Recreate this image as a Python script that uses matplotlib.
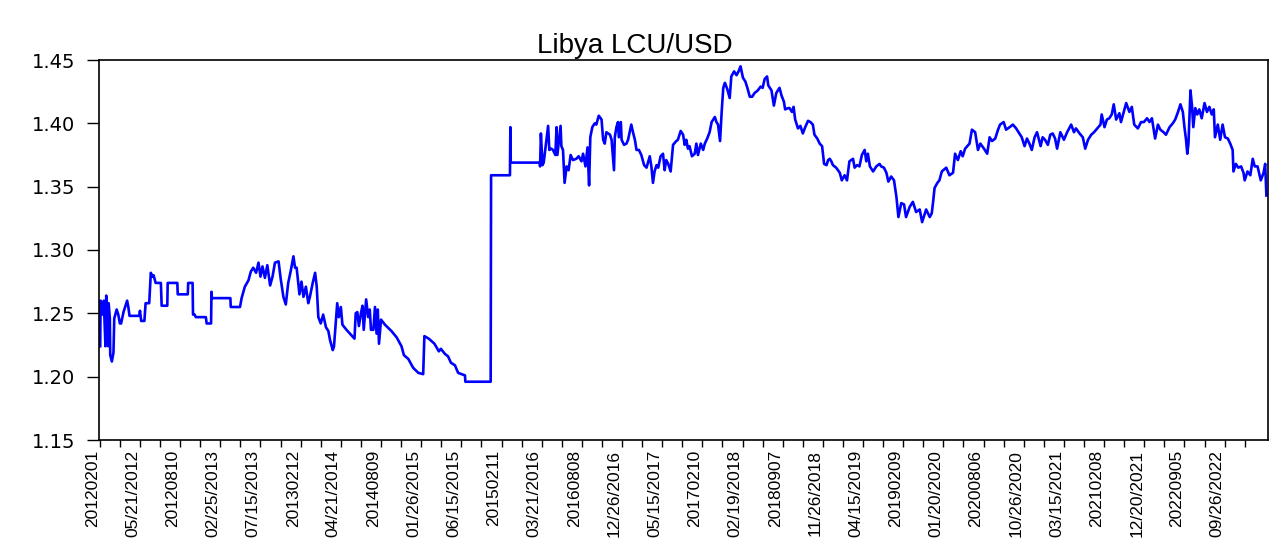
import matplotlib.pyplot as plt
import numpy as np

# === Data ===
# x = observation number (business days from 2 Jan 2012), y = Libya LCU per USD
obs_a = [1, 2, 7, 10, 14, 16, 19, 21, 22, 25, 26, 30, 34, 36, 42, 46, 50, 53, 59, 65,
         68, 71, 74, 98, 100, 103, 111, 114, 123, 127, 131, 134, 139, 152, 154, 168,
         169, 193, 194, 219, 220, 231, 232, 236, 239, 264, 266, 277, 278, 279, 325, 326, 349]
rate_a = [1.224, 1.260, 1.249, 1.260, 1.224, 1.264, 1.253, 1.224, 1.258, 1.246, 1.217,
          1.212, 1.219, 1.246, 1.253, 1.249, 1.242, 1.242, 1.251, 1.257, 1.260, 1.255,
          1.248, 1.248, 1.252, 1.244, 1.244, 1.258, 1.258, 1.282, 1.279, 1.280, 1.274,
          1.274, 1.256, 1.256, 1.274, 1.274, 1.265, 1.265, 1.274, 1.274, 1.249, 1.249,
          1.247, 1.247, 1.242, 1.242, 1.267, 1.262, 1.262, 1.255, 1.255]

obs_b = [353, 361, 370, 376, 382, 389, 395, 400, 405, 411, 417, 424, 430, 436, 445, 450,
         457, 463, 469, 475, 482, 486, 490, 497, 502, 507, 513, 519, 523, 530, 536, 540,
         544, 550, 556, 563, 569, 573, 580, 583, 588, 591, 595, 600, 604, 614]
rate_b = [1.262, 1.271, 1.276, 1.283, 1.286, 1.282, 1.290, 1.279, 1.287, 1.278, 1.288,
          1.272, 1.279, 1.290, 1.291, 1.278, 1.263, 1.257, 1.274, 1.283, 1.295, 1.286,
          1.286, 1.265, 1.275, 1.263, 1.271, 1.258, 1.263, 1.274, 1.282, 1.271, 1.247,
          1.242, 1.249, 1.239, 1.236, 1.229, 1.221, 1.224, 1.246, 1.258, 1.247, 1.255,
          1.241, 1.237]

obs_c = [634, 637, 641, 645, 650, 654, 657, 663, 668, 672, 675, 681, 685, 689, 692, 695,
         700, 710, 726, 739, 751, 757, 768, 780, 793, 805, 808, 819, 833, 844, 849, 859,
         867, 874, 884, 892, 909, 910, 973]
rate_c = [1.230, 1.250, 1.251, 1.240, 1.250, 1.256, 1.237, 1.261, 1.247, 1.253, 1.237,
          1.237, 1.255, 1.234, 1.253, 1.226, 1.245, 1.241, 1.236, 1.231, 1.224, 1.217,
          1.214, 1.207, 1.203, 1.202, 1.232, 1.230, 1.226, 1.220, 1.222, 1.218, 1.216,
          1.211, 1.209, 1.203, 1.201, 1.196, 1.196]

obs_d = [974, 1021, 1022, 1023, 1095, 1096, 1098, 1102, 1105, 1116, 1119, 1124, 1128,
         1134, 1137, 1139, 1147, 1149, 1153, 1157, 1162, 1167, 1172, 1178, 1186, 1192,
         1199, 1203, 1209, 1214, 1218, 1221, 1226, 1232, 1236, 1242, 1249, 1253, 1257,
         1261, 1270, 1274, 1280, 1282, 1286, 1290, 1292, 1297, 1299, 1305, 1311, 1315,
         1319, 1323, 1328, 1332, 1336, 1342, 1348, 1355, 1361, 1369, 1373, 1377, 1381,
         1386, 1390, 1396, 1402, 1406, 1410, 1415, 1421, 1427, 1435, 1439, 1446, 1452,
         1456, 1460, 1464, 1468, 1474, 1481, 1485, 1489, 1496, 1502, 1506, 1512, 1518,
         1523, 1531, 1535, 1539, 1544]
rate_d = [1.359, 1.359, 1.397, 1.369, 1.369, 1.366, 1.392, 1.367, 1.369, 1.398, 1.379,
          1.380, 1.379, 1.375, 1.397, 1.375, 1.398, 1.382, 1.379, 1.353, 1.366, 1.363,
          1.375, 1.371, 1.372, 1.374, 1.370, 1.376, 1.366, 1.381, 1.351, 1.389, 1.397,
          1.400, 1.399, 1.406, 1.403, 1.387, 1.384, 1.393, 1.391, 1.387, 1.363, 1.389,
          1.397, 1.401, 1.389, 1.401, 1.387, 1.383, 1.384, 1.387, 1.393, 1.399, 1.392,
          1.387, 1.379, 1.379, 1.375, 1.367, 1.365, 1.374, 1.366, 1.353, 1.362, 1.367,
          1.365, 1.374, 1.376, 1.363, 1.371, 1.368, 1.362, 1.383, 1.386, 1.387, 1.394,
          1.391, 1.383, 1.387, 1.380, 1.382, 1.374, 1.376, 1.384, 1.375, 1.384, 1.379,
          1.384, 1.388, 1.393, 1.401, 1.405, 1.401, 1.399, 1.386]

obs_e = [1548, 1552, 1556, 1562, 1568, 1572, 1579, 1585, 1590, 1595, 1601, 1607, 1612,
         1618, 1624, 1630, 1638, 1645, 1650, 1655, 1661, 1664, 1672, 1678, 1684, 1692,
         1697, 1703, 1706, 1713, 1717, 1723, 1727, 1731, 1738, 1744, 1750, 1756, 1763,
         1769, 1775, 1779, 1786, 1792, 1798, 1803, 1809, 1813, 1817, 1821, 1825, 1833,
         1842, 1847, 1854, 1860, 1866, 1875, 1879, 1885, 1891, 1897, 1904, 1908, 1912,
         1917, 1925, 1933, 1941, 1945, 1952, 1958, 1963, 1970, 1977]
rate_e = [1.409, 1.428, 1.432, 1.427, 1.420, 1.437, 1.441, 1.438, 1.441, 1.445, 1.436,
          1.433, 1.428, 1.421, 1.421, 1.424, 1.426, 1.429, 1.428, 1.435, 1.437, 1.430,
          1.426, 1.414, 1.424, 1.428, 1.422, 1.417, 1.411, 1.412, 1.412, 1.409, 1.413,
          1.403, 1.396, 1.398, 1.392, 1.397, 1.402, 1.401, 1.399, 1.391, 1.388, 1.384,
          1.382, 1.368, 1.367, 1.371, 1.372, 1.370, 1.367, 1.365, 1.361, 1.355, 1.359,
          1.355, 1.370, 1.372, 1.365, 1.367, 1.366, 1.375, 1.379, 1.370, 1.376, 1.366,
          1.362, 1.366, 1.368, 1.366, 1.365, 1.361, 1.354, 1.358, 1.355]

obs_f = [1983, 1988, 1995, 2002, 2007, 2016, 2024, 2032, 2041, 2047, 2057, 2066, 2071,
         2074, 2078, 2085, 2090, 2096, 2107, 2115, 2124, 2129, 2136, 2143, 2148, 2154,
         2165, 2171, 2179, 2186, 2192, 2201, 2209, 2215, 2221, 2229, 2236, 2241, 2250,
         2256, 2265, 2273, 2281, 2289, 2295, 2302, 2308, 2314, 2320, 2327, 2333, 2342,
         2347, 2353, 2360, 2366, 2372, 2378, 2383, 2391, 2400, 2408, 2418, 2425, 2430,
         2439, 2447, 2453, 2460, 2468, 2475, 2483]
rate_f = [1.342, 1.326, 1.337, 1.336, 1.326, 1.334, 1.338, 1.330, 1.332, 1.322, 1.332,
          1.326, 1.329, 1.337, 1.349, 1.353, 1.355, 1.362, 1.365, 1.359, 1.361, 1.376,
          1.371, 1.378, 1.374, 1.380, 1.384, 1.395, 1.393, 1.379, 1.384, 1.380, 1.376,
          1.389, 1.386, 1.388, 1.395, 1.399, 1.401, 1.395, 1.397, 1.399, 1.396, 1.392,
          1.389, 1.382, 1.388, 1.384, 1.379, 1.389, 1.393, 1.382, 1.389, 1.387, 1.383,
          1.391, 1.392, 1.388, 1.380, 1.393, 1.387, 1.393, 1.399, 1.393, 1.396, 1.392,
          1.389, 1.380, 1.387, 1.391, 1.393, 1.396]

obs_g = [2491, 2494, 2501, 2507, 2513, 2519, 2524, 2530, 2538, 2542, 2549, 2555, 2563,
         2569, 2575, 2584, 2592, 2599, 2607, 2613, 2619, 2627, 2634, 2640, 2648, 2654,
         2663, 2671, 2677, 2684, 2690, 2696, 2700, 2704, 2707, 2710, 2715, 2719, 2722,
         2727, 2732, 2737, 2743, 2750, 2756, 2762, 2768, 2773, 2776, 2783, 2789, 2795,
         2801, 2808, 2814, 2820, 2822, 2828, 2834, 2841, 2847, 2850, 2857, 2864, 2870,
         2875, 2882, 2890, 2897, 2901, 2904]
rate_g = [1.399, 1.407, 1.397, 1.403, 1.404, 1.407, 1.415, 1.403, 1.408, 1.401, 1.409,
          1.416, 1.409, 1.413, 1.399, 1.396, 1.401, 1.401, 1.404, 1.401, 1.404, 1.388,
          1.399, 1.395, 1.393, 1.391, 1.397, 1.400, 1.403, 1.409, 1.415, 1.409, 1.397,
          1.387, 1.376, 1.384, 1.426, 1.413, 1.397, 1.412, 1.407, 1.411, 1.404, 1.416,
          1.409, 1.413, 1.407, 1.411, 1.389, 1.399, 1.387, 1.399, 1.389, 1.388, 1.384,
          1.379, 1.362, 1.368, 1.365, 1.366, 1.361, 1.355, 1.362, 1.359, 1.372, 1.366,
          1.366, 1.355, 1.361, 1.368, 1.343]

# date labels every 100 observations, as printed on the axis
date_labels = ["20120201", "05/21/2012", "20120810", "02/25/2013", "07/15/2013",
               "20130212", "04/21/2014", "20140809", "01/26/2015", "06/15/2015",
               "20150211", "03/21/2016", "20160808", "12/26/2016", "05/15/2017",
               "20170210", "02/19/2018", "20180907", "11/26/2018", "04/15/2019",
               "20190209", "01/20/2020", "20200806", "10/26/2020", "03/15/2021",
               "20210208", "12/20/2021", "20220905", "09/26/2022"]
y_ticks = [1.15, 1.20, 1.25, 1.30, 1.35, 1.40, 1.45]
title = "Libya LCU/USD"

obs = obs_a + obs_b + obs_c + obs_d + obs_e + obs_f + obs_g
rate = rate_a + rate_b + rate_c + rate_d + rate_e + rate_f + rate_g

# === Plot ===
fig = plt.figure(figsize=(12.7, 5.44), dpi=100)
ax = fig.add_axes([99 / 1270, 104 / 544, 1169 / 1270, 380 / 544])
ax.plot(obs, rate, color="#0000ff", lw=1.9)

ax.set_xlim(-2, 2908)
ax.set_ylim(1.15, 1.45)

ax.set_yticks(y_ticks)
ax.set_yticklabels([f"{v:.2f}" for v in y_ticks], fontsize=14, family="DejaVu Sans")
ax.tick_params(axis="y", direction="out", length=9, width=1, pad=8, color="black")

label_pos = np.arange(len(date_labels)) * 100
ax.set_xticks(label_pos)
ax.set_xticks(label_pos + 50, minor=True)
ax.set_xticklabels(date_labels, rotation=90, ha="right", va="top", fontsize=12.5,
                   family=["Liberation Sans Narrow", "Liberation Sans"])
ax.tick_params(axis="x", which="both", direction="out", length=5, width=1, pad=2)

for s in ax.spines.values():
    s.set_linewidth(1.2)

fig.text(0.5, 1 - 46 / 544, title, ha="center", va="center", fontsize=20,
         family="Liberation Sans")

plt.savefig("out.png", dpi=100)
